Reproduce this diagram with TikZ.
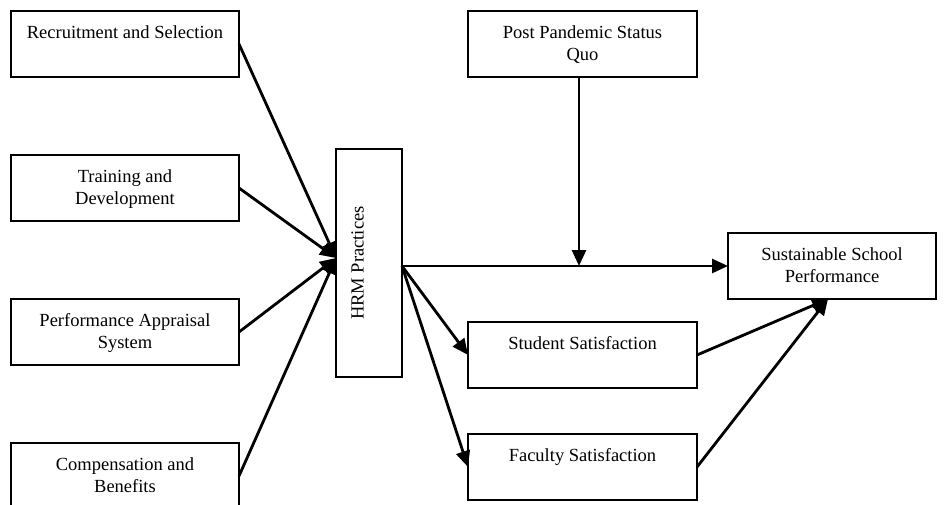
\documentclass[tikz,border=0pt]{standalone}
\usepackage{fontspec}
\setmainfont{Liberation Serif}
\usetikzlibrary{arrows.meta}
\newcommand{\cfbox}[2]{\parbox[c][66pt][t]{#1}{\centering\rule{0pt}{27.5pt}\ignorespaces#2\par}}
\begin{document}
\begin{tikzpicture}[x=1pt,y=-1pt,
  box/.style={draw, line width=1.7pt, inner sep=0pt, outer sep=0pt},
  arr/.style={line width=2.8pt, -{Triangle[length=16pt,width=14pt]}},
  font=\fontsize{18.5}{21.5}\selectfont]
\useasboundingbox (0,0) rectangle (946,504);
\clip (0,0) rectangle (946,504);
% left boxes
\node[box] (rec) at (125,44)  {\cfbox{228pt}{Recruitment and Selection}};
\node[box] (trn) at (125,188) {\cfbox{228pt}{Training and\\Development}};
\node[box] (pas) at (125,332) {\cfbox{228pt}{Performance Appraisal\\System}};
\node[box] (cmp) at (125,476) {\cfbox{228pt}{Compensation and\\Benefits}};
% centre
\node[box, rotate=90] (hrm) at (369,263) {\cfbox{228pt}{HRM Practices}};
% right side
\node[box] (ppq) at (582.5,44)  {\cfbox{229pt}{Post Pandemic Status\\Quo}};
\node[box] (stu) at (582.5,355) {\cfbox{229pt}{Student Satisfaction}};
\node[box] (fac) at (582.5,467) {\cfbox{229pt}{Faculty Satisfaction}};
\node[box] (ssp) at (832,266)   {\cfbox{208pt}{Sustainable School\\Performance}};
% connection points
\coordinate (hin)  at (336,258);
\coordinate (hout) at (402,266);
\coordinate (mod)  at (579,266);
\coordinate (sin)  at (828,299);
% arrows
\draw[arr] (rec.east) -- (hin);
\draw[arr] (trn.east) -- (hin);
\draw[arr] (pas.east) -- (hin);
\draw[arr] (cmp.east) -- (hin);
\draw[arr] (hout) -- (ssp.west);
\draw[arr] (ppq.south -| mod) -- (mod);
\draw[arr] (hout) -- (stu.west);
\draw[arr] (hout) -- (fac.west);
\draw[arr] (stu.east) -- (sin);
\draw[arr] (fac.east) -- (sin);
\end{tikzpicture}
\end{document}
